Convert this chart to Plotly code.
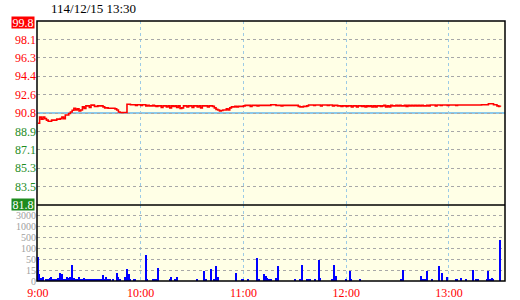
import numpy as np
import plotly.graph_objects as go

TITLE = "114/12/15 13:30"
REF_PRICE = 90.8
PRICE_TICKS = ["99.8", "98.1", "96.3", "94.4", "92.6", "90.8", "88.9", "87.1", "85.3", "83.5", "81.8"]
TIME_TICKS = ["9:00", "10:00", "11:00", "12:00", "13:00"]
VOL_TICKS = ["0", "15", "50", "100", "500", "1000", "3000"]
VOL_LEVELS = [0, 15, 50, 100, 500, 1000, 3000]

# one price per minute, 9:00 .. 13:30
PRICE = [
    89.8, 90.4, 90.2, 90.4, 90.25, 90.1, 90.0, 90.0, 90.1, 90.1,
    90.1, 90.2, 90.2, 90.25, 90.4, 90.25, 90.6, 90.6, 90.75, 90.9,
    91.07, 91.25, 91.1, 91.2, 91.0, 91.1, 91.4, 91.25, 91.5, 91.5,
    91.35, 91.57, 91.57, 91.45, 91.45, 91.5, 91.5, 91.5, 91.4, 91.3,
    91.3, 91.27, 91.27, 91.27, 91.27, 91.2, 91.1, 90.9, 90.85, 90.85,
    90.85, 90.85, 91.66, 91.66, 91.6, 91.6, 91.6, 91.55, 91.6, 91.6,
    91.55, 91.6, 91.6, 91.5, 91.55, 91.5, 91.5, 91.55, 91.5, 91.45,
    91.5, 91.5, 91.35, 91.5, 91.5, 91.4, 91.5, 91.3, 91.5, 91.45,
    91.5, 91.35, 91.5, 91.24, 91.3, 91.5, 91.5, 91.4, 91.5, 91.5,
    91.35, 91.5, 91.5, 91.4, 91.5, 91.3, 91.5, 91.5, 91.5, 91.4,
    91.5, 91.5, 91.45, 91.3, 91.15, 91.1, 91.0, 91.05, 91.1, 91.1,
    91.2, 91.1, 91.3, 91.4, 91.4, 91.45, 91.4, 91.45, 91.45, 91.45,
    91.5, 91.55, 91.55, 91.55, 91.45, 91.55, 91.55, 91.55, 91.5, 91.55,
    91.55, 91.55, 91.55, 91.55, 91.55, 91.55, 91.6, 91.6, 91.6, 91.55,
    91.55, 91.55, 91.5, 91.55, 91.55, 91.55, 91.55, 91.55, 91.55, 91.55,
    91.55, 91.55, 91.45, 91.4, 91.4, 91.45, 91.45, 91.5, 91.58, 91.58,
    91.58, 91.55, 91.58, 91.58, 91.58, 91.5, 91.58, 91.58, 91.58, 91.55,
    91.58, 91.58, 91.5, 91.55, 91.55, 91.5, 91.5, 91.45, 91.5, 91.5,
    91.45, 91.5, 91.5, 91.4, 91.5, 91.5, 91.4, 91.5, 91.5, 91.45,
    91.5, 91.4, 91.5, 91.45, 91.5, 91.4, 91.5, 91.4, 91.5, 91.5,
    91.45, 91.5, 91.55, 91.4, 91.5, 91.4, 91.55, 91.5, 91.5, 91.55,
    91.5, 91.55, 91.5, 91.5, 91.55, 91.45, 91.55, 91.5, 91.55, 91.5,
    91.55, 91.5, 91.55, 91.5, 91.55, 91.5, 91.5, 91.55, 91.5, 91.58,
    91.58, 91.58, 91.5, 91.58, 91.58, 91.55, 91.58, 91.58, 91.58, 91.55,
    91.58, 91.58, 91.58, 91.58, 91.55, 91.58, 91.58, 91.58, 91.58, 91.58,
    91.58, 91.58, 91.58, 91.58, 91.58, 91.58, 91.58, 91.58, 91.58, 91.6,
    91.6, 91.6, 91.6, 91.7, 91.7, 91.7, 91.6, 91.6, 91.5, 91.45,
    91.4,
]
MINUTES = list(range(len(PRICE)))

VOL_MINUTE = [
    0, 1, 2, 3, 5, 6, 7, 8, 9, 10, 11, 12, 13, 14, 15, 16, 17, 18, 19, 20,
    21, 22, 23, 24, 25, 26, 27, 28, 29, 30, 31, 32, 33, 34, 35, 36, 37, 38, 39, 40,
    41, 42, 44, 46, 47, 48, 51, 52, 53, 54, 56, 57, 63, 64, 67, 68,
    69, 70, 77, 78, 80, 81, 93, 97, 98, 101, 103, 104, 105, 116, 119, 120, 123,
    128, 129, 132, 133, 134, 135,
    136, 139, 140, 150, 153, 154, 157, 158, 159, 162, 164, 165, 172, 173, 174,
    180, 182, 183, 188, 212, 213, 224, 225, 226, 227, 230, 234, 236, 239,
    244, 245, 247, 250, 254, 256, 257, 262, 263, 264, 265, 266, 270,
]
VOL_SHARES = [
    65, 11, 4, 6, 3, 3, 4, 6, 2, 2, 2, 4, 12, 11, 2, 3, 6, 4, 6, 33,
    4, 3, 2, 6, 2, 2, 4, 3, 2, 2, 2, 3, 3, 2, 3, 2, 2, 9, 2, 6,
    3, 2, 2, 12, 6, 3, 6, 22, 11, 3, 3, 2, 74, 3, 2, 2,
    2, 25, 2, 6, 2, 6, 3, 15, 3, 22, 2, 29, 6, 12, 3, 2, 3,
    60, 2, 11, 8, 4, 2,
    3, 4, 29, 2, 2, 32, 2, 2, 2, 2, 48, 4, 2, 32, 8,
    2, 15, 3, 3, 3, 17, 8, 2, 3, 15, 2, 29, 12, 6,
    3, 3, 4, 3, 17, 2, 2, 3, 15, 2, 4, 3, 430,
]

# ---- layout constants ----
FONT = "Liberation Serif"
W, H = 520, 300
ML, MR, MT, MB = 37, 15, 21, 19
VOL_FRAC = 76 / (H - MT - MB)
VOL_LEVEL_POS = [0, 10.2, 21.2, 32.2, 43.2, 54.2, 65.5]  # axis units (px above base)
VOL_RANGE = [0, 76]
X_RANGE = [-0.53, 272.7]

RED = "#FF0000"
GREEN = "#1E8C1E"
BG = "#FFFFE6"
GRID = "#A8A8A8"
VGRID = "#9CCBE6"

vol_h = np.interp(VOL_SHARES, VOL_LEVELS, VOL_LEVEL_POS)

fig = go.Figure()
fig.add_trace(go.Scatter(x=MINUTES, y=PRICE, mode="lines",
                         line=dict(color=RED, width=1.6, shape="hv"),
                         xaxis="x", yaxis="y", showlegend=False, hoverinfo="skip"))
fig.add_trace(go.Bar(x=VOL_MINUTE, y=vol_h, width=0.75,
                     marker=dict(color="#0000FF", line=dict(width=0)),
                     xaxis="x2", yaxis="y2", showlegend=False, hoverinfo="skip"))

price_tickvals = list(np.linspace(99.8, 81.8, len(PRICE_TICKS)))
price_ticktext = []
for i, t in enumerate(PRICE_TICKS):
    if i == 0 or i == len(PRICE_TICKS) - 1:
        price_ticktext.append("")
    else:
        col = RED if float(t) >= REF_PRICE else GREEN
        price_ticktext.append(f'<span style="color:{col}">{t}</span>')

time_vals = [60 * i for i in range(len(TIME_TICKS))]

fig.update_layout(
    template="none",
    width=W, height=H,
    margin=dict(l=ML, r=MR, t=MT, b=MB, pad=0),
    paper_bgcolor="white", plot_bgcolor=BG,
    font=dict(family=FONT, size=12, color="black"),
    bargap=0,
    xaxis=dict(domain=[0, 1], anchor="y", range=X_RANGE, tickvals=time_vals,
               showticklabels=False, showgrid=True, gridcolor=VGRID, griddash="dot",
               gridwidth=1, zeroline=False, ticks="", showline=False, automargin=False),
    yaxis=dict(domain=[VOL_FRAC, 1], anchor="x", range=[81.8, 99.8],
               tickvals=price_tickvals, ticktext=price_ticktext,
               tickfont=dict(family=FONT, size=12, color=RED),
               showgrid=True, gridcolor=GRID, griddash="dot", gridwidth=1,
               zeroline=False, ticks="", showline=False, automargin=False),
    xaxis2=dict(domain=[0, 1], anchor="y2", range=X_RANGE, tickvals=time_vals,
                ticktext=TIME_TICKS, tickfont=dict(family=FONT, size=12, color=RED),
                ticklabelstandoff=3,
                showgrid=True, gridcolor=VGRID, griddash="dot", gridwidth=1,
                zeroline=False, ticks="", showline=False, automargin=False),
    yaxis2=dict(domain=[0, VOL_FRAC], anchor="x2", range=VOL_RANGE,
                tickvals=VOL_LEVEL_POS, ticktext=VOL_TICKS,
                tickfont=dict(family=FONT, size=10, color="#A0A0A0"),
                showgrid=True, gridcolor=GRID, griddash="dot", gridwidth=1,
                zeroline=False, ticks="", showline=False, automargin=False),
    shapes=[
        dict(type="line", xref="paper", x0=0, x1=1, yref="y", y0=REF_PRICE, y1=REF_PRICE,
             line=dict(color="#8CCAEB", width=2), layer="between"),
        dict(type="rect", xref="paper", yref="paper", x0=0, x1=1, y0=0, y1=1,
             line=dict(color="black", width=1.5), layer="above"),
        dict(type="line", xref="paper", yref="paper", x0=0, x1=1, y0=VOL_FRAC, y1=VOL_FRAC,
             line=dict(color="black", width=1.5), layer="above"),
    ],
    annotations=[
        dict(text=TITLE, xref="paper", yref="paper", x=0.0256, y=1, xanchor="left",
             yanchor="bottom", yshift=3, showarrow=False,
             font=dict(family=FONT, size=13, color="black")),
        dict(text=PRICE_TICKS[0], xref="paper", yref="y", x=0, y=99.8, xanchor="right",
             yanchor="middle", xshift=-2, yshift=-1, showarrow=False, bgcolor=RED,
             borderpad=0, width=22, height=11,
             font=dict(family=FONT, size=12, color="white")),
        dict(text=PRICE_TICKS[-1], xref="paper", yref="y", x=0, y=81.8, xanchor="right",
             yanchor="middle", xshift=-2, yshift=1, showarrow=False, bgcolor=GREEN,
             borderpad=0, width=22, height=11,
             font=dict(family=FONT, size=12, color="white")),
    ],
)

fig.write_html("out.html")
